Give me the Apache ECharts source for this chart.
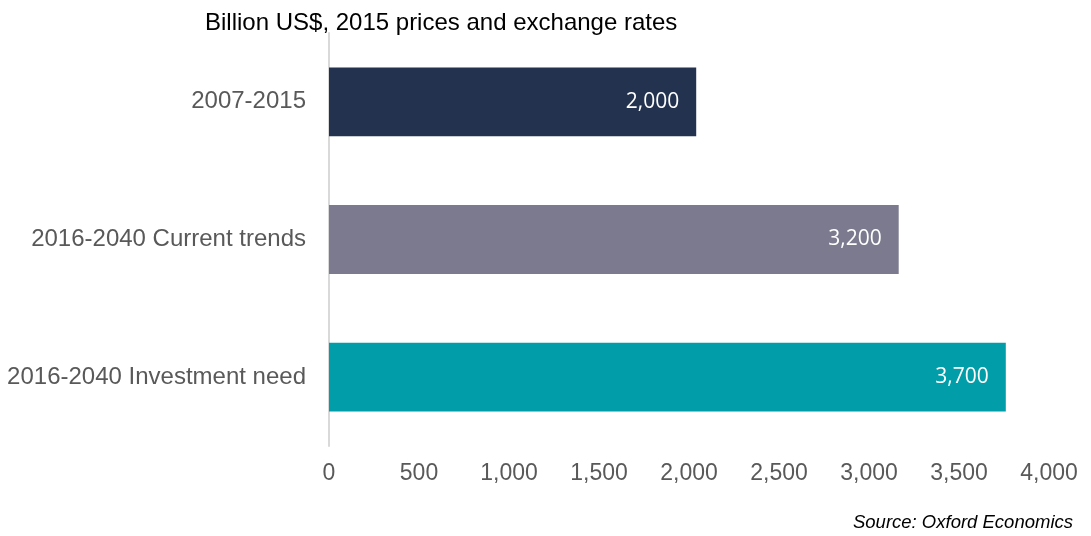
<!DOCTYPE html>
<html>
<head>
<meta charset="utf-8">
<script src="https://cdn.jsdelivr.net/npm/echarts@6/dist/echarts.min.js"></script>
<style>
    html, body { margin: 0; padding: 0; background: #fff; }
    #chart { width: 1091px; height: 536px; }
</style>
</head>
<body>
<div id="chart"></div>
<script>
    // 分类和数值
    let categories = ['2007-2015', '2016-2040 Current trends', '2016-2040 Investment need'];
    let values = [2040, 3165, 3760];
    let valueLabels = ['2,000', '3,200', '3,700'];
    let barColors = ['#22324F', '#7B7A8E', '#019DA8'];
    let xTicks = [0, 500, 1000, 1500, 2000, 2500, 3000, 3500, 4000];

    let myChart = echarts.init(document.getElementById('chart'));
    let option = {
        backgroundColor: '#fff',
        animation: false,
        title: [{
            text: 'Billion US$, 2015 prices and exchange rates',
            left: 205,
            top: 11,
            padding: 0,
            textStyle: {
                fontFamily: 'Liberation Sans, Arial',
                fontSize: 24,
                fontWeight: 'normal',
                color: '#000'
            }
        }, {
            text: 'Source: Oxford Economics',
            right: 18,
            top: 513,
            padding: 0,
            textStyle: {
                fontFamily: 'Liberation Sans, Arial',
                fontSize: 18.5,
                fontStyle: 'italic',
                fontWeight: 'normal',
                color: '#000'
            }
        }],
        grid: {
            left: 329,
            right: 42,
            top: 33,
            bottom: 90,
            containLabel: false
        },
        xAxis: {
            type: 'value',
            min: xTicks[0],
            max: xTicks[xTicks.length - 1],
            interval: 500,
            axisLine: {show: false},
            axisTick: {show: false},
            splitLine: {show: false},
            axisLabel: {
                margin: 16,
                fontFamily: 'Liberation Sans, Arial',
                fontSize: 23,
                color: '#595959',
                formatter: function (v) {
                    return v.toLocaleString('en-US');
                }
            }
        },
        yAxis: {
            type: 'category',
            inverse: true,
            data: categories,
            axisLine: {show: true, lineStyle: {color: '#d9d9d9', width: 2}},
            axisTick: {show: false},
            axisLabel: {
                margin: 23,
                fontFamily: 'Liberation Sans, Arial',
                fontSize: 24,
                color: '#595959'
            }
        },
        series: [{
            type: 'bar',
            barWidth: '50%',
            data: values.map(function (v, i) {
                return {value: v, itemStyle: {color: barColors[i]}};
            }),
            label: {
                show: true,
                position: 'insideRight',
                distance: 17,
                fontFamily: 'Open Sans, Noto Sans',
                fontSize: 21,
                color: '#fff',
                formatter: function (p) {
                    return valueLabels[p.dataIndex];
                }
            }
        }]
    };
    myChart.setOption(option);
</script>
</body>
</html>
